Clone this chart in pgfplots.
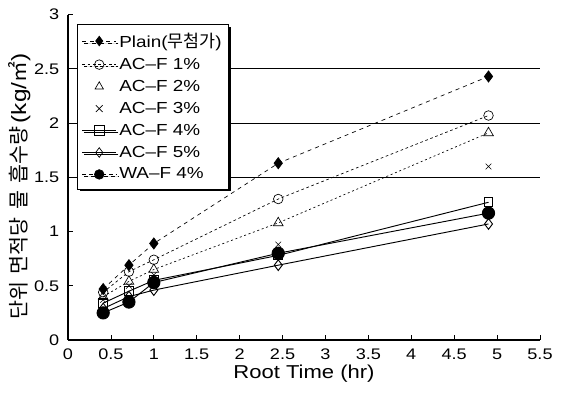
\documentclass[border=0pt]{standalone}
\usepackage{fontspec}
\setmainfont[FakeStretch=1.18]{Liberation Sans}
\newfontfamily\kr{Noto Sans CJK KR}
\usepackage{pgfplots}
\pgfplotsset{compat=1.18}
\usetikzlibrary{shadows}

\begin{document}
\begin{tikzpicture}
\useasboundingbox (-51pt,-49.5pt) rectangle (372pt,255pt);
\begin{axis}[
    scale only axis,
    width=354pt, height=244pt,
    xmin=0, xmax=5.5, ymin=0, ymax=3,
    xtick={0,0.5,...,5.5}, ytick={0,0.5,...,3},
    axis lines=left,
    axis line style={-, line width=0.8pt},
    tick style={black, line width=0.6pt},
    major tick length=3.5pt,
    tick align=inside,
    /pgf/number format/assume math mode=true,
    ticklabel style={font=\fontsize{11.5pt}{13pt}\selectfont},
    xticklabel style={yshift=-3pt},
    yticklabel style={xshift=-3pt},
    xlabel={Root Time (hr)},
    xlabel style={font=\fontsize{14pt}{16pt}\selectfont, yshift=3pt},
    ylabel={{\kr 단위\hspace{0.35em}면적당\hspace{0.35em}물\hspace{0.35em}흡수량}\,(kg/{\kr ㎡})},
    ylabel style={font=\fontsize{15.5pt}{17pt}\selectfont, yshift=-4pt, xshift=-7pt},
    extra y ticks={1.5,2,2.5},
    extra y tick labels={},
    extra y tick style={grid=major, major grid style={black, line width=0.8pt}},
    legend style={at={(0.02,0.97)}, anchor=north west,
        draw=black, line width=0.6pt, fill=white,
        drop shadow={shadow xshift=1.6pt, shadow yshift=-1.6pt, fill=black, opacity=1},
        font=\fontsize{12pt}{13pt}\selectfont,
        row sep=2.6pt, inner xsep=3pt, inner ysep=4pt},
    legend cell align=left,
    legend image code/.code={
        \draw[mark repeat=2, mark phase=2] plot coordinates {(0cm,0cm) (0.45cm,0cm) (0.9cm,0cm)};},
    legend image post style={line width=0.5pt, mark size=3.6pt},
]
% Plain
\addplot[black, line width=0.5pt, dash pattern=on 3pt off 3pt, mark=diamond*, mark size=4.2pt,
    mark options={solid, fill=black}] coordinates {
    (0.41,0.47) (0.71,0.69) (1,0.89) (2.45,1.63) (4.9,2.43)};
\addlegendentry{Plain({\kr\fontsize{13pt}{13pt}\selectfont 무첨가})}
% AC-F 1%
\addplot[black, line width=0.5pt, dash pattern=on 2pt off 2pt, mark=o, mark size=3.6pt,
    mark options={solid, fill=white}] coordinates {
    (0.41,0.44) (0.71,0.63) (1,0.74) (2.45,1.30) (4.9,2.07)};
\addlegendentry{AC--F 1\%}
% AC-F 2%
\addlegendimage{black, only marks, mark=triangle, mark options={solid}}
\addlegendentry{AC--F 2\%}
\addplot[black, line width=0.5pt, dash pattern=on 1.5pt off 2pt, mark=triangle, mark size=4.2pt,
    mark options={solid, fill=white}, forget plot] coordinates {
    (0.41,0.40) (0.71,0.54) (1,0.65) (2.45,1.08) (4.9,1.91)};
% AC-F 3%
\addplot[black, line width=0.4pt, only marks, mark=x, mark size=3pt] coordinates {
    (0.41,0.37) (0.71,0.50) (1,0.60) (2.45,0.88) (4.9,1.60)};
\addlegendentry{AC--F 3\%}
% AC-F 4%
\addplot[black, line width=0.7pt, mark=square, mark size=3.3pt,
    mark options={solid, fill=white}] coordinates {
    (0.41,0.34) (0.71,0.45) (1,0.55) (2.45,0.78) (4.9,1.27)};
\addlegendentry{AC--F 4\%}
% AC-F 5%
\addplot[black, line width=0.7pt, mark=diamond, mark size=4pt,
    mark options={solid, fill=white}] coordinates {
    (0.41,0.29) (0.71,0.40) (1,0.46) (2.45,0.69) (4.9,1.07)};
\addlegendentry{AC--F 5\%}
% WA-F 4%
\addlegendimage{black, line width=0.5pt, dash pattern=on 3pt off 2pt, mark=*, mark options={solid, fill=black}}
\addlegendentry{WA--F 4\%}
\addplot[black, line width=0.7pt, mark=*, mark size=4.6pt,
    mark options={solid, fill=black}, forget plot] coordinates {
    (0.41,0.25) (0.71,0.35) (1,0.53) (2.45,0.80) (4.9,1.17)};
\end{axis}
\end{tikzpicture}
\end{document}
